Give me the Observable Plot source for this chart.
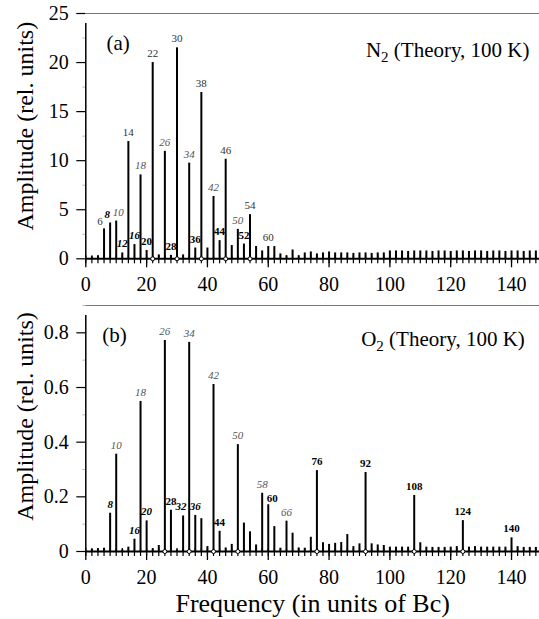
<!DOCTYPE html>
<html><head><meta charset="utf-8">
<script src="https://cdn.jsdelivr.net/npm/d3@7"></script>
<script src="https://cdn.jsdelivr.net/npm/@observablehq/plot@0.6"></script>
<style>
html,body{margin:0;padding:0;background:#fff;}
#chart{width:539px;height:619px;overflow:hidden;font-family:"Liberation Serif","DejaVu Serif",serif;}
#chart svg{display:block;}
#chart svg, #chart svg text{font-family:"Liberation Serif","DejaVu Serif",serif !important;}
</style></head><body><div id="chart"></div>
<script>
// Frequencies (in units of Bc)
const freq = [2,4,6,8,10,12,14,16,18,20,22,24,26,28,30,32,34,36,38,40,42,44,46,48,50,52,54,56,58,60,62,64,66,68,70,72,74,76,78,80,82,84,86,88,90,92,94,96,98,100,102,104,106,108,110,112,114,116,118,120,122,124,126,128,130,132,134,136,138,140,142,144,146,148];
// (a) N2 amplitudes
const n2Amp = [0.2,0.3,3.05,3.65,3.85,0.6,11.95,1.45,8.55,0.85,
  20.0,0.4,10.95,0.35,21.5,0.4,9.75,1.1,16.95,1.1,
  6.35,1.85,10.15,1.35,3.0,1.5,4.5,1.25,0.8,1.25,
  1.25,0.5,0.3,0.9,0.3,0.6,0.7,0.5,0.6,0.7,
  0.6,0.6,0.6,0.55,0.6,0.6,0.55,0.6,0.6,0.8,
  0.8,0.8,0.75,0.8,0.8,0.8,0.75,0.8,0.8,0.75,
  0.8,0.8,0.75,0.8,0.8,0.75,0.8,0.8,0.75,0.8,
  0.8,0.75,0.8,0.8];
// (b) O2 amplitudes
const o2Amp = [0.008,0.01,0.012,0.14,0.356,0.006,0.016,0.045,0.549,0.112,
  0.01,0.022,0.772,0.151,0.006,0.13,0.765,0.132,0.12,0.018,
  0.611,0.074,0.013,0.026,0.391,0.104,0.072,0.024,0.213,0.171,
  0.091,0.012,0.111,0.067,0.013,0.012,0.052,0.296,0.032,0.026,
  0.03,0.033,0.062,0.018,0.028,0.289,0.028,0.024,0.022,0.016,
  0.016,0.016,0.016,0.205,0.032,0.016,0.015,0.015,0.015,0.016,
  0.018,0.113,0.016,0.018,0.016,0.016,0.016,0.016,0.016,0.05,
  0.018,0.015,0.015,0.015];

// Peak labels, grouped by typeface
const n2Normal = [6,14,22,30,38,46,54,60];
const n2Italic = [10,18,26,34,42,50];
const n2Bold = [20,28,36,44,52];
const n2BoldItalic = [8,12,16];
const n2Circles = [22,30,38,46,54];

const o2Normal = [];
const o2Italic = [10,18,26,34,42,50,58,66];
const o2Bold = [28,44,60,76,92,108,124,140];
const o2BoldItalic = [8,16,20,32,36];
const o2Circles = [26,34,42,50,76,92,108,124];

// Axis ticks
const xMajor = [0,20,40,60,80,100,120,140];
const xMinor = d3.range(0, 150, 2);
const n2YTicks = [0,5,10,15,20,25];
const n2YMinor = [2.5,7.5,12.5,17.5,22.5];
const o2YTicks = [0,0.2,0.4,0.6,0.8];
const o2YMinor = [0.1,0.3,0.5,0.7,0.9];

const yTitle = "Amplitude (rel. units)";
const xTitle = "Frequency (in units of Bc)";
const FONT = "'Liberation Serif','DejaVu Serif',serif";

function panel(o) {
  const data = freq.map((f, i) => ({f, a: o.amp[i]}));
  const lookup = new Map(data.map(d => [d.f, d.a]));
  const nudge = o.nudge || {};
  const lab = (arr, weight, style, fill) => {
    const plain = arr.filter(d => !(d in nudge));
    const out = [Plot.text(plain, {
      x: d => d, y: d => lookup.get(d), text: d => String(d),
      dy: -9, fontSize: 11, fontWeight: weight, fontStyle: style, fill, fontFamily: FONT,
      textAnchor: "middle", lineAnchor: "middle"
    })];
    for (const d of arr.filter(d => d in nudge)) {
      out.push(Plot.text([d], {
        x: v => v, y: v => lookup.get(v), text: v => String(v),
        dx: nudge[d][0], dy: nudge[d][1], fontSize: 11, fontWeight: weight, fontStyle: style, fill, fontFamily: FONT,
        textAnchor: "middle", lineAnchor: "middle"
      }));
    }
    return out;
  };
  const marks = [
    Plot.ruleY([o.yMax], {stroke: "#777", strokeWidth: 1}),
    Plot.axisY({ticks: o.yMinor, tickSize: 3, tickFormat: () => "", stroke: "#bbb", label: null}),
    Plot.axisY({ticks: o.yTicks, tickSize: 9, tickPadding: 8, tickFormat: o.yFormat, label: null, fontSize: 20, strokeWidth: 1.2, fontFamily: FONT}),
    Plot.axisX({ticks: xMajor, tickSize: 9, tickPadding: 9, label: null, fontSize: 20, strokeWidth: 1.3, fontFamily: FONT}),
    Plot.ruleX(xMinor, {x: d => d, y1: 0, y2: 0, insetTop: -3, insetBottom: -5, strokeWidth: 1.2}),
    Plot.ruleX([0], {y1: 0, y2: o.yMax, insetBottom: -10, strokeWidth: 1.5}),
    Plot.ruleY([0], {strokeWidth: 2}),
    Plot.ruleX(data, {x: "f", y1: 0, y2: "a", strokeWidth: 2}),
    Plot.dot(o.circles, {x: d => d, y: 0, r: 2, fill: "white", stroke: "black", strokeWidth: 1}),
    ...lab(o.normal, "normal", "normal", "#333"),
    ...lab(o.italic, "normal", "italic", "#555"),
    ...lab(o.bold, "bold", "normal", "#000"),
    ...lab(o.boldItalic, "bold", "italic", "#000"),
    Plot.text([o.tag], {frameAnchor: "top-left", dx: o.tagDx, dy: o.tagDy, fontSize: 21, fontFamily: FONT, textAnchor: "start", lineAnchor: "middle"}),
    Plot.text([o.title], {frameAnchor: "top-right", dx: o.titleDx, dy: o.titleDy, fontSize: 21, fontFamily: FONT, textAnchor: "end", lineAnchor: "middle"}),
    Plot.text([yTitle], {frameAnchor: "left", rotate: -90, dx: -60, dy: o.yLabelDy, fontSize: 24, fontFamily: FONT, textAnchor: "middle", lineAnchor: "middle"})
  ];
  if (o.xTitle) marks.push(Plot.text([o.xTitle], {frameAnchor: "bottom", dy: 52, fontSize: 26, fontFamily: FONT, textAnchor: "middle", lineAnchor: "middle"}));
  const svg = Plot.plot({
    width: 539, height: o.height,
    marginLeft: 85.3, marginRight: 0, marginTop: o.marginTop, marginBottom: o.marginBottom,
    x: {domain: [0, 149.2]},
    y: {domain: [0, o.yMax]},
    style: {fontFamily: FONT, fontSize: "20px", background: "white", color: "black", overflow: "visible"},
    marks
  });
  svg.setAttribute("font-family", FONT);
  d3.select(svg).selectAll("text").filter(function() { return this.textContent === o.title; }).each(function() {
    const t = d3.select(this);
    const [mol, ...rest] = o.title.split(" ");
    t.text(null);
    t.append("tspan").text(mol[0]);
    t.append("tspan").attr("dy", "5").attr("font-size", "15").text(mol.slice(1));
    t.append("tspan").attr("dy", "-5").text(" " + rest.join(" "));
  });
  return svg;
}

const topPanel = panel({
  amp: n2Amp, yMax: 25, yTicks: n2YTicks, yMinor: n2YMinor, yFormat: d => String(d),
  height: 290, marginTop: 13, marginBottom: 31.7,
  normal: n2Normal, italic: n2Italic, bold: n2Bold, boldItalic: n2BoldItalic, circles: n2Circles,
  nudge: {6: [-4, -7], 8: [-3, -9], 10: [2, -9]},
  tag: "(a)", tagDx: 20.7, tagDy: 29.7,
  title: "N2 (Theory, 100 K)", titleDx: -10, titleDy: 37,
  yLabelDy: -10
});
const bottomPanel = panel({
  amp: o2Amp, yMax: 0.9, yTicks: o2YTicks, yMinor: o2YMinor, yFormat: d => d === 0 ? "0" : d3.format(".1f")(d),
  height: 329, marginTop: 15, marginBottom: 68,
  normal: o2Normal, italic: o2Italic, bold: o2Bold, boldItalic: o2BoldItalic, circles: o2Circles,
  nudge: {60: [4, -6], 32: [-2, -9]},
  tag: "(b)", tagDx: 16.4, tagDy: 30,
  title: "O2 (Theory, 100 K)", titleDx: -14.7, titleDy: 33.3,
  yLabelDy: -12, xTitle: xTitle
});
const chart = document.getElementById("chart");
chart.appendChild(topPanel);
chart.appendChild(bottomPanel);
</script>
</body></html>
